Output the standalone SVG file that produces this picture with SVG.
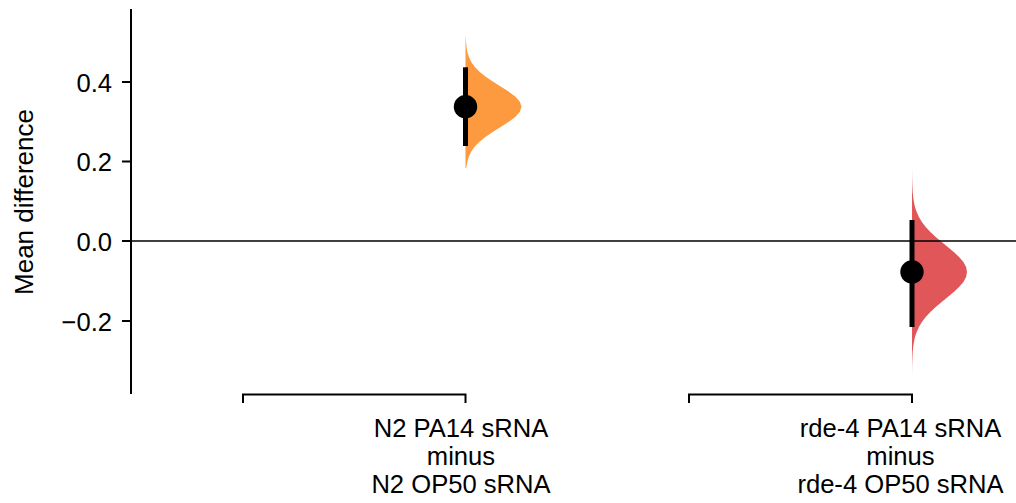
<svg xmlns="http://www.w3.org/2000/svg" width="1016" height="503" viewBox="0 0 1016 503">
<style>
text{font-family:"Liberation Sans",Arial,sans-serif;font-size:25.6px;fill:#000}
.tick{text-anchor:end}
.lab{text-anchor:middle}
.ax{stroke:#000;stroke-width:2;fill:none}
.zero{stroke:#000;stroke-width:1.6}
.ci{stroke:#000;stroke-width:5}
</style>
<rect width="1016" height="503" fill="#fff"/>
<g id="distributions">
<path id="dist-n2" fill="#fd9a3f" d="M465.5,36.7 L465.7,36.7 L466.0,41.7 L466.5,46.7 L467.3,51.7 L468.8,56.7 L471.1,61.7 L474.6,66.7 L479.5,71.7 L485.7,76.7 L493.1,81.7 L501.1,86.7 L508.9,91.7 L515.5,96.7 L519.9,101.7 L521.5,106.7 L519.9,111.7 L515.5,116.7 L508.9,121.7 L501.1,126.7 L493.1,131.7 L485.7,136.7 L479.5,141.7 L474.6,146.7 L471.1,151.7 L468.8,156.7 L467.3,161.7 L466.5,166.7 L466.3,168 L465.5,168 Z"/>
<path id="dist-rde4" fill="#e15759" d="M912,167 L912.1,177 L912.4,187 L912.7,192 L913.2,197 L913.9,202 L915.0,207 L916.7,212 L918.9,217 L921.9,222 L925.7,227 L930.4,232 L935.7,237 L941.7,242 L947.8,247 L953.8,252 L959.1,257 L963.4,262 L966.1,267 L967,272 L966.1,277 L963.4,282 L959.1,287 L953.8,292 L947.8,297 L941.7,302 L935.7,307 L930.4,312 L925.7,317 L921.9,322 L918.9,327 L916.7,332 L915.0,337 L913.9,342 L913.2,347 L912.7,352 L912.4,357 L912.1,367 L912,377 Z"/>
</g>
<g id="axes">
<line class="ax" x1="131" y1="9" x2="131" y2="394"/>
<line class="ax" x1="122" y1="82" x2="131" y2="82"/>
<line class="ax" x1="122" y1="161.5" x2="131" y2="161.5"/>
<line class="ax" x1="122" y1="241" x2="131" y2="241"/>
<line class="ax" x1="122" y1="321" x2="131" y2="321"/>
<text class="tick" x="112" y="91.5">0.4</text>
<text class="tick" x="112" y="171">0.2</text>
<text class="tick" x="112" y="250.5">0.0</text>
<text class="tick" x="112" y="330.5">−0.2</text>
<text class="lab" transform="translate(33,202) rotate(-90)" style="font-size:26px">Mean difference</text>
<line class="zero" x1="131" y1="241" x2="1016" y2="241"/>
</g>
<g id="connectors">
<path class="ax" d="M243,403 V394.5 H465.5 V403"/>
<path class="ax" d="M689,403 V394.5 H912 V403"/>
</g>
<g id="node-n2">
<line class="ci" x1="465.5" y1="67.3" x2="465.5" y2="146"/>
<circle cx="465.5" cy="106.7" r="11.7" fill="#000"/>
<text class="lab" x="461" y="437">N2 PA14 sRNA</text>
<text class="lab" x="461" y="465">minus</text>
<text class="lab" x="461" y="493">N2 OP50 sRNA</text>
</g>
<g id="node-rde4">
<line class="ci" x1="912" y1="220" x2="912" y2="327"/>
<circle cx="912" cy="272" r="11.7" fill="#000"/>
<text class="lab" x="900.5" y="437">rde-4 PA14 sRNA</text>
<text class="lab" x="900.5" y="465">minus</text>
<text class="lab" x="900.5" y="493">rde-4 OP50 sRNA</text>
</g>
</svg>
